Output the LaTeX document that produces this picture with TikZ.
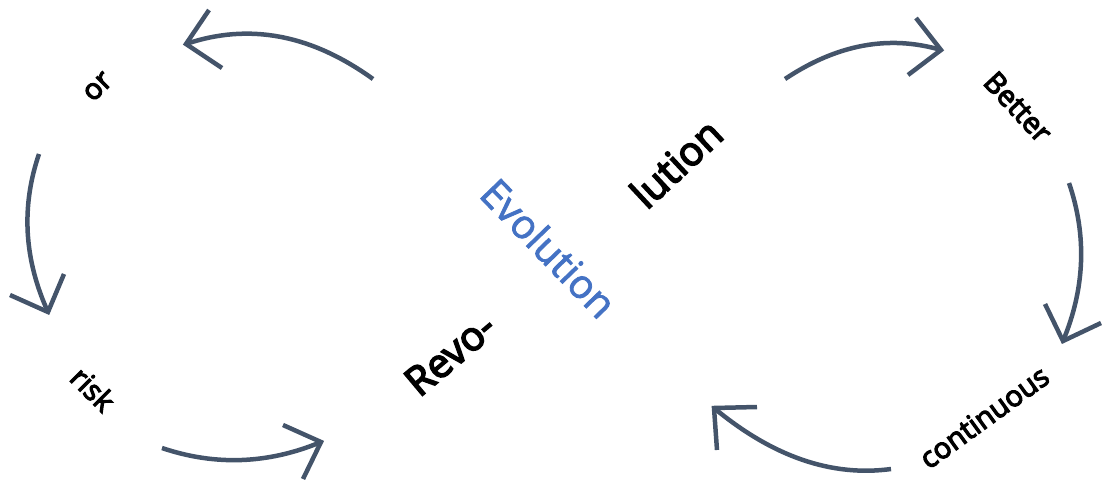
\documentclass[tikz,border=0pt]{standalone}
\usepackage{fontspec}
\setmainfont{Open Sans}
\newfontfamily\sbfont{Open Sans}[FakeBold=4]
\newfontfamily\mdfont{Open Sans}[FakeBold=2]
\definecolor{arc}{HTML}{44546A}
\definecolor{evo}{HTML}{4472C4}
\begin{document}
\begin{tikzpicture}[x=1pt,y=-1pt,
  arcline/.style={draw=arc,line width=4.5pt},
  headline/.style={draw=arc,line width=4.5pt,line join=miter},
  small/.style={font=\sbfont\fontsize{29}{33}\selectfont,inner sep=0pt},
  big/.style={font=\sbfont\fontsize{40}{45}\selectfont,inner sep=0pt},
  blue/.style={font=\mdfont\fontsize{40}{45}\selectfont,text=evo,inner sep=0pt}]
\useasboundingbox (0,0) rectangle (1105,487);
% arc 1 top-left
\coordinate (a1s) at (373,79); \coordinate (a1t) at (186,44);
\coordinate (a1u) at (209,10); \coordinate (a1d) at (222,68);
\draw[arcline] (a1s) .. controls (311,34.3) and (248.7,22.7) .. (a1t);
\draw[headline] (a1u) -- (a1t) -- (a1d);
% arc 2 left
\coordinate (a2s) at (39,154); \coordinate (a2t) at (48,312);
\coordinate (a2u) at (10,295); \coordinate (a2d) at (64,274);
\draw[arcline] (a2s) .. controls (21,206.7) and (24,259.3) .. (a2t);
\draw[headline] (a2u) -- (a2t) -- (a2d);
% arc 3 bottom-left
\coordinate (a3s) at (162,448); \coordinate (a3t) at (321,442);
\coordinate (a3u) at (283,425); \coordinate (a3d) at (303,479);
\draw[arcline] (a3s) .. controls (215.3,466) and (268.3,464) .. (a3t);
\draw[headline] (a3u) -- (a3t) -- (a3d);
% arc 4 top-right
\coordinate (a4s) at (785,79); \coordinate (a4t) at (941,50);
\coordinate (a4u) at (916,18); \coordinate (a4d) at (908,75);
\draw[arcline] (a4s) .. controls (837,44.3) and (889,34.7) .. (a4t);
\draw[headline] (a4u) -- (a4t) -- (a4d);
% arc 5 right
\coordinate (a5s) at (1069,183); \coordinate (a5t) at (1063,341);
\coordinate (a5u) at (1045,304); \coordinate (a5d) at (1101,323);
\draw[arcline] (a5s) .. controls (1087,235.7) and (1085,288.3) .. (a5t);
\draw[headline] (a5u) -- (a5t) -- (a5d);
% arc 6 bottom-right
\coordinate (a6s) at (891,469); \coordinate (a6t) at (714,408);
\coordinate (a6u) at (757,407); \coordinate (a6d) at (717,450);
\draw[arcline] (a6s) .. controls (831.7,477) and (772.7,456.7) .. (a6t);
\draw[headline] (a6u) -- (a6t) -- (a6d);
% texts
\node[small,rotate=45] (or) at (98,87) {or};
\node[small,rotate=-45] (risk) at (93,389) {risk};
\node[small,rotate=-47] (better) at (1018,107) {Better};
\node[small,rotate=36] (cont) at (984,417) {continuous};
\node[big,rotate=40] (revo) at (450,354) {Revo-};
\node[big,rotate=43] (lution) at (676,163) {lution};
\node[blue,rotate=-46] (evolution) at (549,248) {Evolution};
\end{tikzpicture}
\end{document}
